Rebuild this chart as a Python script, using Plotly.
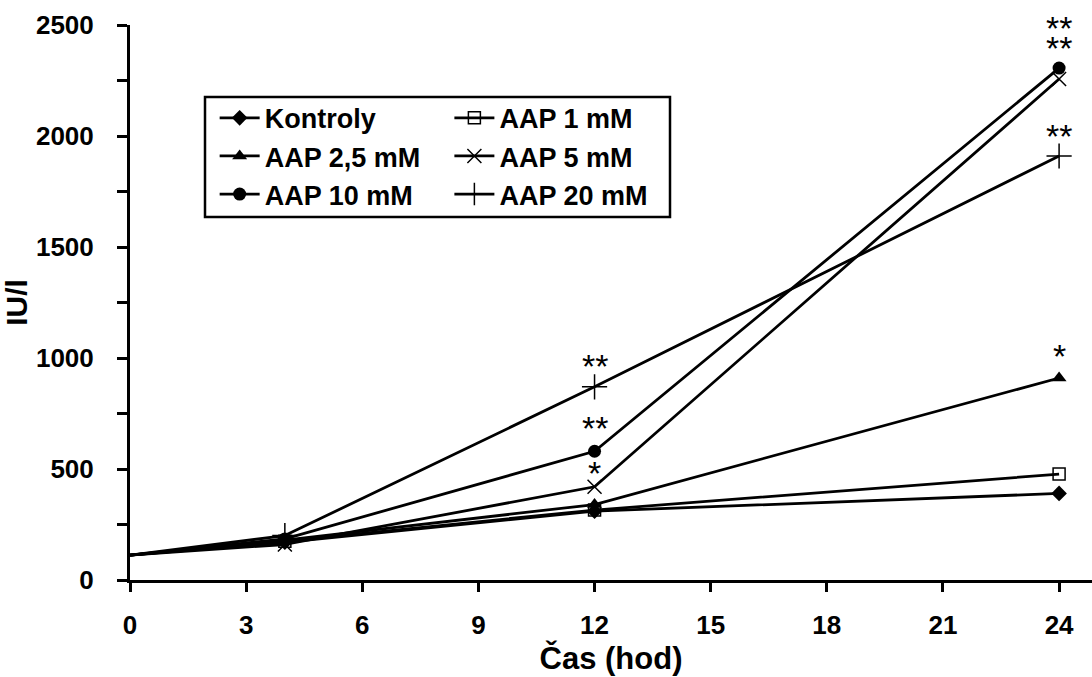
import plotly.graph_objects as go

# ---- data ----
hours = [0, 4, 12, 24]
kontroly = [112, 170, 310, 390]
aap1 = [112, 175, 315, 477]
aap25 = [112, 180, 340, 910]
aap5 = [112, 160, 420, 2257]
aap10 = [112, 185, 580, 2306]
aap20 = [112, 200, 870, 1910]

series_names = ["Kontroly", "AAP 1 mM", "AAP 2,5 mM", "AAP 5 mM", "AAP 10 mM", "AAP 20 mM"]
series_vals = [kontroly, aap1, aap25, aap5, aap10, aap20]

# significance marks: (hour, value, text, pixel offset of glyph centre above point)
sig_marks = [
    (12, 870, "**", 25),
    (12, 580, "**", 27),
    (12, 420, "*", 18),
    (24, 2306, "**", 24),
    (24, 2306, "**", 44),
    (24, 1910, "**", 24),
    (24, 910, "*", 26),
]

x_ticks = [0, 3, 6, 9, 12, 15, 18, 21, 24]
y_ticks = [0, 500, 1000, 1500, 2000, 2500]

FONT = "Liberation Sans, Arial, sans-serif"

styles = [
    dict(symbol="diamond", size=12, color="black", line=dict(width=0)),
    dict(symbol="square-open", size=12, color="black", line=dict(width=1.5)),
    dict(symbol="triangle-up", size=13, color="black", line=dict(width=0)),
    dict(symbol="x-thin-open", size=14, color="black", line=dict(width=1.5, color="black")),
    dict(symbol="circle", size=13, color="black", line=dict(width=0)),
    dict(symbol="cross-thin-open", size=18, color="black", line=dict(width=1.5, color="black")),
]
legend_of = ["legend", "legend2", "legend", "legend2", "legend", "legend2"]

LW = 2.8
fig = go.Figure()
for name, vals, st, lg in zip(series_names, series_vals, styles, legend_of):
    # initial segment (no marker at time 0)
    fig.add_trace(go.Scatter(
        x=hours[:2], y=vals[:2], mode="lines", showlegend=False,
        line=dict(color="black", width=LW), legendgroup=name, hoverinfo="skip",
        cliponaxis=False,
    ))
    fig.add_trace(go.Scatter(
        x=hours[1:], y=vals[1:], name=name, mode="lines+markers",
        line=dict(color="black", width=LW),
        marker=st, legend=lg, legendgroup=name,
        cliponaxis=False,
    ))

ASTER = 34
for hx, hv, txt, off in sig_marks:
    fig.add_annotation(x=hx, y=hv, text=txt, showarrow=False,
                       xref="x", yref="y", yanchor="middle",
                       yshift=off - 4,
                       font=dict(family=FONT, size=ASTER, color="black"))

legend_common = dict(
    font=dict(family=FONT, size=27, color="black", weight="bold"),
    bgcolor="rgba(0,0,0,0)", borderwidth=0,
    xanchor="left", yanchor="top", tracegroupgap=0,
    itemwidth=40,
)

fig.update_layout(
    width=1092, height=677,
    margin=dict(l=130, r=0, t=25, b=97),
    paper_bgcolor="white", plot_bgcolor="white",
    showlegend=True,
    legend=dict(x=0.088, y=0.876, **legend_common),
    legend2=dict(x=0.332, y=0.876, **legend_common),
    xaxis=dict(
        range=[0, 24.85], tickvals=x_ticks, ticks="outside", ticklen=9, tickwidth=2.5,
        tickcolor="black", showline=True, linecolor="black", linewidth=3,
        showgrid=False, zeroline=False, ticklabelstandoff=11,
        tickfont=dict(family=FONT, size=26, color="black", weight="bold"),
        title=dict(text="Čas (hod)", standoff=6,
                   font=dict(family=FONT, size=31, color="black", weight="bold")),
    ),
    yaxis=dict(
        range=[0, 2500], tickvals=y_ticks, ticks="outside", ticklen=10, tickwidth=2.5,
        tickcolor="black", showline=True, linecolor="black", linewidth=3,
        showgrid=False, zeroline=False, ticklabelstandoff=18,
        minor=dict(dtick=250, tick0=0, ticks="outside", ticklen=10, tickwidth=2.5, tickcolor="black", showgrid=False),
        tickfont=dict(family=FONT, size=26, color="black", weight="bold"),
        title=dict(text="IU/l", standoff=8,
                   font=dict(family=FONT, size=30, color="black", weight="bold")),
    ),
)

# legend frame
fig.add_shape(type="rect", xref="paper", yref="paper",
              x0=(205 - 130) / 962, x1=(670 - 130) / 962,
              y0=(580 - 217) / 555, y1=(580 - 97) / 555,
              line=dict(color="black", width=2.5), fillcolor="rgba(0,0,0,0)")

fig.write_html("out.html")
